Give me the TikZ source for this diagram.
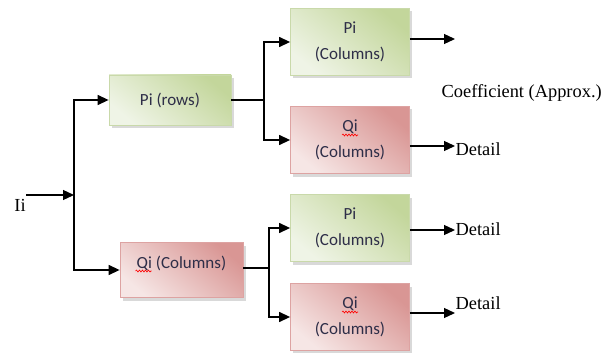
\documentclass[tikz,border=0pt]{standalone}
\usepackage{fontspec}
\setmainfont{Liberation Serif}
\newfontfamily\boxfont{Carlito}
\usetikzlibrary{arrows.meta,shadows,decorations.pathmorphing}

\definecolor{greenL}{HTML}{EFF4E6}
\definecolor{greenD}{HTML}{C3D69B}
\definecolor{greenB}{HTML}{C9D9AA}
\definecolor{redL}{HTML}{F6E6E5}
\definecolor{redD}{HTML}{D99694}
\definecolor{redB}{HTML}{DDA3A2}
\definecolor{boxtext}{HTML}{2E2E48}

\begin{document}
\begin{tikzpicture}[x=1pt, y=-1pt,
    line width=1.3pt,
    arr/.style={-{Triangle[length=11pt,width=10pt]}},
    stage/.style={rectangle, line width=0.8pt, align=center, text=boxtext,
      font=\boxfont\fontsize{17}{26}\selectfont,
      drop shadow={shadow xshift=2.5pt, shadow yshift=-3pt, opacity=0.3}},
    pbox/.style={stage, draw=greenB, top color=greenD, bottom color=greenL, shading angle=-40},
    qbox/.style={stage, draw=redB, top color=redD, bottom color=redL, shading angle=-40},
    colbox/.style={minimum width=119pt, minimum height=67pt},
    boxlabel/.style={text=boxtext, font=\boxfont\fontsize{17}{26}\selectfont},
    label/.style={font=\fontsize{18.4}{20}\selectfont, inner sep=0pt},
    spell/.style={draw=red, line width=0.6pt,
      decorate, decoration={snake, segment length=3pt, amplitude=1pt}}
    ]
\useasboundingbox (0,0) rectangle (611,353);

% first level
\node[pbox, minimum width=122pt, minimum height=50pt] (Pr) at (170,100) {Pi (rows)};
\node[qbox, minimum width=123pt, minimum height=55pt] (Qc) at (181.5,270) {};
\node[boxlabel] (QcT) at (181.5,263) {Qi (Columns)};

% second level
\node[pbox, colbox] (P1) at (350,42)  {Pi\\(Columns)};
\node[qbox, colbox] (Q2) at (350,140) {Qi\\(Columns)};
\node[pbox, colbox] (P3) at (350,228) {Pi\\(Columns)};
\node[qbox, colbox] (Q4) at (350,317) {Qi\\(Columns)};

% spelling marks under Qi
\draw[spell] ([shift={(-46,8)}]QcT.center) -- ++(16,0);
\draw[spell] ([shift={(-8,-5)}]Q2.center) -- ++(16,0);
\draw[spell] ([shift={(-8,-5)}]Q4.center) -- ++(16,0);

% texts
\node[label] (Ii) at (20,205) {Ii};
\node[label, anchor=west] (Coef) at (441,93) {Coefficient (Approx.)};
\node[label, anchor=west] (D2) at (455,149) {Detail};
\node[label, anchor=west] (D3) at (455,229) {Detail};
\node[label, anchor=west] (D4) at (455,303) {Detail};

% branch points
\coordinate (in) at (26,195);
\coordinate (s1) at (74,195);
\coordinate (s2) at (264,100);
\coordinate (s3) at (269,268);
\coordinate (o1) at (455,39);
\coordinate (o2) at (455,146);
\coordinate (o3) at (455,230);
\coordinate (o4) at (455,313);

\draw[arr] (in) -- (s1);
\draw[arr] (s1) |- (Pr.west);
\draw[arr] (s1) |- (Qc.west);
\draw (Pr.east) -- (s2);
\draw[arr] (s2) |- (P1.west);
\draw[arr] (s2) |- (Q2.west);
\draw (Qc.east |- s3) -- (s3);
\draw[arr] (s3) |- (P3.west);
\draw[arr] (s3) |- (Q4.west);

\draw[arr] (P1.east |- o1) -- (o1);
\draw[arr] (Q2.east |- o2) -- (o2);
\draw[arr] (P3.east |- o3) -- (o3);
\draw[arr] (Q4.east |- o4) -- (o4);
\end{tikzpicture}
\end{document}
